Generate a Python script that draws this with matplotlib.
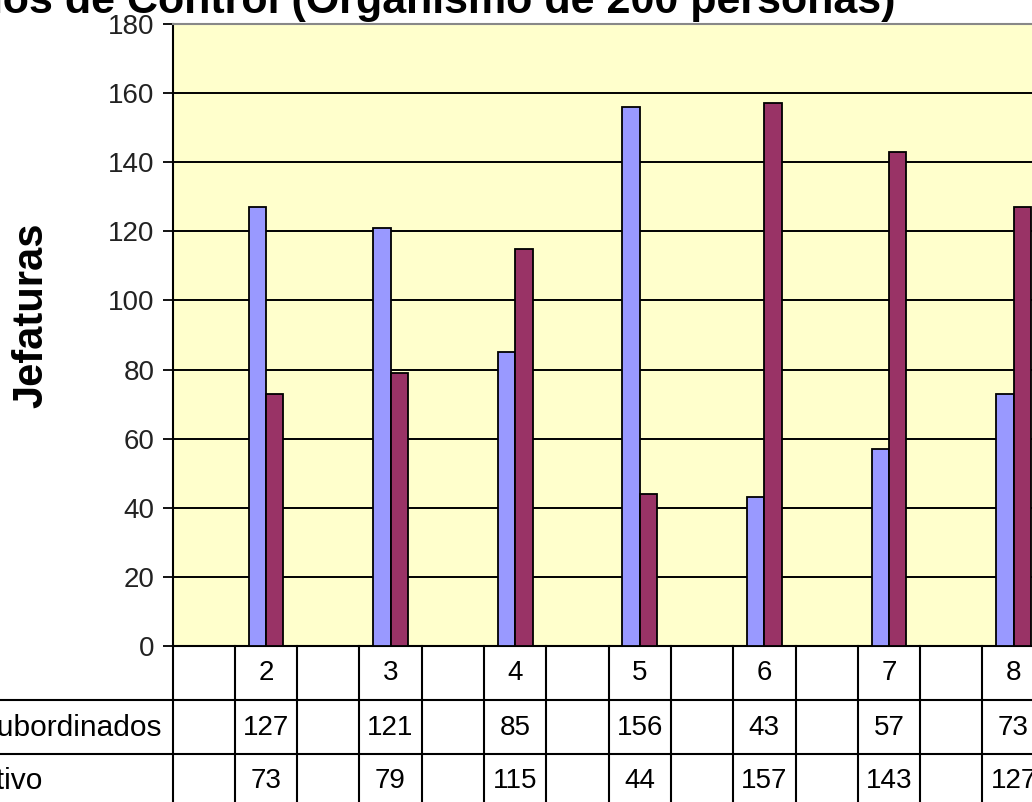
import numpy as np
import matplotlib
matplotlib.use("Agg")
import matplotlib.pyplot as plt
from matplotlib.lines import Line2D
from matplotlib.transforms import blended_transform_factory

plt.rcParams['font.family'] = ['Liberation Sans', 'DejaVu Sans']

# ---- data ----
categories = ["", "2", "", "3", "", "4", "", "5", "", "6", "", "7", "", "8", ""]
subordinados = [None, 127, None, 121, None, 85, None, 156, None, 43, None, 57, None, 73, None]
operativo = [None, 73, None, 79, None, 115, None, 44, None, 157, None, 143, None, 127, None]
series_names = ["Jefaturas con subordinados", "Personal operativo"]
title = "Tramos de Control (Organismo de 200 personas)"
ylabel = "Jefaturas"
yticks = list(range(0, 181, 20))

W, H = 1032, 802
fig = plt.figure(figsize=(W / 100, H / 100), dpi=100)
fig.patch.set_facecolor("white")

slot = 62.3
left_px, top_px, zero_px = 172.5, 24, 646
n = len(categories)
ax = fig.add_axes([left_px / W, 1 - zero_px / H, n * slot / W, (zero_px - top_px) / H])
ax.set_facecolor("#FFFFCC")
ax.set_xlim(-0.5, n - 0.5)
ax.set_ylim(0, 180)

x = np.arange(n)
bw = 0.28
for vals, color, off in [(subordinados, "#9999FF", -bw / 2), (operativo, "#993366", bw / 2)]:
    xs = [xi + off for xi, v in zip(x, vals) if v is not None]
    ys = [v for v in vals if v is not None]
    ax.bar(xs, ys, width=bw, color=color, edgecolor="black", linewidth=1.3, zorder=3)

ax.set_yticks(yticks)
ax.yaxis.grid(True, color="black", linewidth=1.4, zorder=1)
ax.set_axisbelow(True)
ax.tick_params(axis="y", direction="out", length=7, width=1.3, labelsize=20, pad=6,
               colors="black", labelcolor="#222222")
ax.set_xticks([])
for s in ["left", "bottom"]:
    ax.spines[s].set_color("black")
    ax.spines[s].set_linewidth(1.5)
ax.spines["top"].set_color("#888888")
ax.spines["top"].set_linewidth(1.5)
ax.spines["right"].set_visible(False)

# y label and title
fig.text(31 / W, 1 - 315 / H, ylabel, rotation=90, fontsize=30, fontweight="bold",
         ha="center", va="center")
fig.text(896 / W, 1 - 13 / H, title, fontsize=31, fontweight="bold", ha="right", va="baseline")

# ---- data table ----
tr = blended_transform_factory(ax.transData, fig.transFigure)
for i in range(n + 1):
    xb = i - 0.5
    fig.add_artist(Line2D([xb, xb], [1 - 646 / H, 0], transform=tr, color="black",
                          linewidth=1.5, clip_on=False))
for yp in [700, 754]:
    fig.add_artist(Line2D([0, 1], [1 - yp / H, 1 - yp / H], transform=fig.transFigure,
                          color="black", linewidth=1.5))

row_centers = [673, 728, 781]
for i, c in enumerate(categories):
    if c:
        fig.text(x[i], 1 - row_centers[0] / H, c, transform=tr, ha="center", va="center", fontsize=20)
for vals, yc in [(subordinados, row_centers[1]), (operativo, row_centers[2])]:
    for i, v in enumerate(vals):
        if v is not None:
            fig.text(x[i], 1 - yc / H, str(v), transform=tr, ha="center", va="center", fontsize=20)

fig.text(161 / W, 1 - row_centers[1] / H, series_names[0], ha="right", va="center", fontsize=21.5)
fig.text(42 / W, 1 - row_centers[2] / H, series_names[1], ha="right", va="center", fontsize=21.5)

fig.savefig("out.png", dpi=100)
